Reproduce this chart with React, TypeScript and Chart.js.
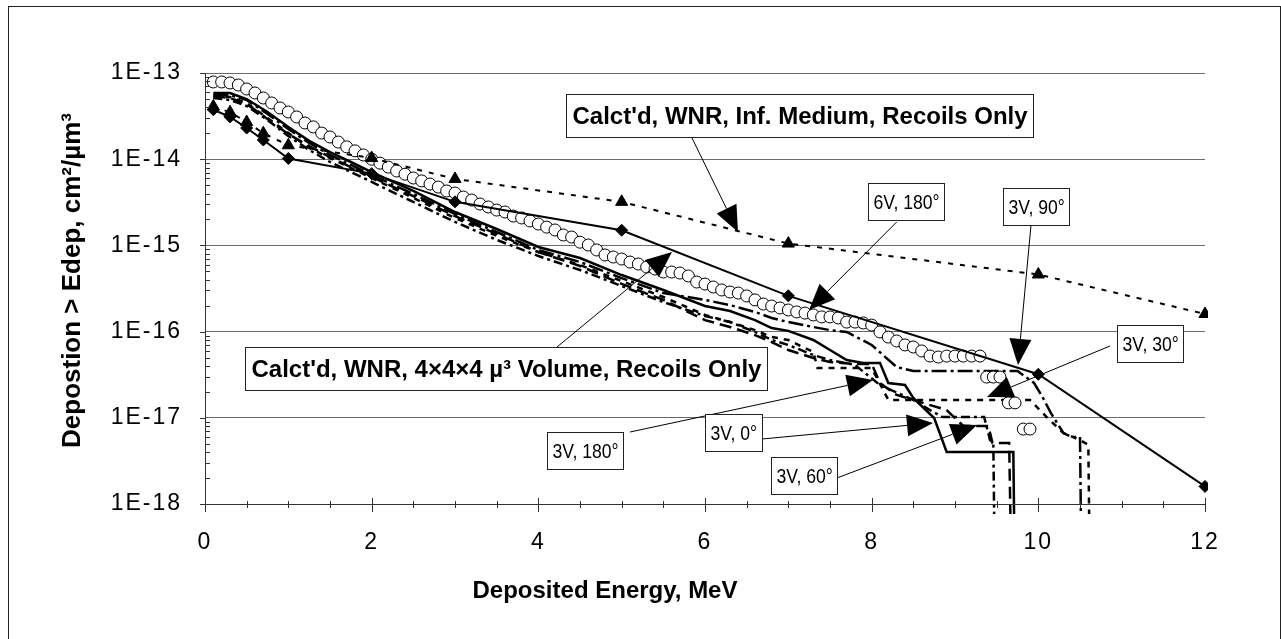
import React, { useEffect, useRef } from 'react';
import { Chart, registerables } from 'chart.js';

Chart.register(...registerables);

// ---------- axes ----------
const xTickValues = [0, 2, 4, 6, 8, 10, 12];
const yTickValues = [1e-18, 1e-17, 1e-16, 1e-15, 1e-14, 1e-13];
const xTitle = 'Deposited Energy, MeV';
const yTitle = 'Depostion > Edep, cm²/µm³';

// ---------- 6V, 180° (open circles) ----------
const circleX = [
  0.1, 0.2, 0.3, 0.4, 0.5, 0.6, 0.7, 0.8, 0.9, 1.0,
  1.1, 1.2, 1.3, 1.4, 1.5, 1.6, 1.7, 1.8, 1.9, 2.0,
  2.1, 2.2, 2.3, 2.4, 2.5, 2.6, 2.7, 2.8, 2.9, 3.0,
  3.1, 3.2, 3.3, 3.4, 3.5, 3.6, 3.7, 3.8, 3.9, 4.0,
  4.1, 4.2, 4.3, 4.4, 4.5, 4.6, 4.7, 4.8, 4.9, 5.0,
  5.1, 5.2, 5.3, 5.4, 5.5, 5.6, 5.7, 5.8, 5.9, 6.0,
  6.1, 6.2, 6.3, 6.4, 6.5, 6.6, 6.7, 6.8, 6.9, 7.0,
  7.1, 7.2, 7.3, 7.4, 7.5, 7.6, 7.7, 7.8, 7.9, 8.0,
  8.1, 8.2, 8.3, 8.4, 8.5, 8.6, 8.7, 8.8, 8.9, 9.0,
  9.1, 9.2, 9.3, 9.38, 9.46, 9.54, 9.64, 9.72, 9.82, 9.9,
];
const circleY = [
  7.87e-14, 7.87e-14, 7.66e-14, 7.26e-14, 6.52e-14, 5.86e-14, 5.13e-14, 4.49e-14, 3.93e-14, 3.53e-14,
  3.09e-14, 2.63e-14, 2.37e-14, 2.01e-14, 1.81e-14, 1.58e-14, 1.39e-14, 1.25e-14, 1.12e-14, 1.0e-14,
  9.0e-15, 8.1e-15, 7.3e-15, 6.7e-15, 6.05e-15, 5.6e-15, 5.15e-15, 4.75e-15, 4.28e-15, 4.05e-15,
  3.64e-15, 3.36e-15, 3.02e-15, 2.79e-15, 2.57e-15, 2.44e-15, 2.19e-15, 2.08e-15, 1.92e-15, 1.77e-15,
  1.63e-15, 1.51e-15, 1.32e-15, 1.25e-15, 1.09e-15, 1.01e-15, 8.85e-16, 7.74e-16, 7.33e-16, 6.95e-16,
  6.41e-16, 6.08e-16, 5.61e-16, 5.32e-16, 4.91e-16, 4.91e-16, 4.78e-16, 4.42e-16, 3.76e-16, 3.56e-16,
  3.29e-16, 3.04e-16, 2.88e-16, 2.8e-16, 2.59e-16, 2.33e-16, 2.09e-16, 1.98e-16, 1.88e-16, 1.78e-16,
  1.69e-16, 1.64e-16, 1.56e-16, 1.48e-16, 1.48e-16, 1.44e-16, 1.29e-16, 1.29e-16, 1.26e-16, 1.19e-16,
  9.9e-17, 8.65e-17, 7.78e-17, 7.0e-17, 6.63e-17, 5.96e-17, 5.21e-17, 5.07e-17, 5.2e-17, 5.2e-17,
  5.2e-17, 5.2e-17, 5.2e-17, 2.97e-17, 2.97e-17, 2.97e-17, 1.49e-17, 1.49e-17, 7.4e-18, 7.4e-18,
];

// ---------- Calct'd, WNR, 4x4x4 µ³ Volume (diamonds) ----------
const volumeX = [0.1, 0.3, 0.5, 0.7, 1, 2, 3, 5, 7, 10, 12, 12.02];
const volumeY = [3.75e-14, 3.1e-14, 2.3e-14, 1.67e-14, 1.02e-14, 6.8e-15, 3.2e-15, 1.5e-15, 2.6e-16, 3.2e-17, 1.6e-18, 1e-19];

// ---------- Calct'd, WNR, Inf. Medium (triangles) ----------
const infX = [0.1, 0.3, 0.5, 0.7, 1, 2, 3, 5, 7, 10, 12];
const infY = [4.1e-14, 3.5e-14, 2.7e-14, 2.0e-14, 1.45e-14, 1.03e-14, 5.9e-15, 3.2e-15, 1.05e-15, 4.6e-16, 1.6e-16];

// ---------- 3V, 0° (solid) ----------
const v0X = [0.1, 0.3, 0.5, 0.75, 1.0, 1.25, 1.5, 1.75, 2.0, 2.5, 3.0, 3.5, 4.0, 4.5, 5.0, 5.5, 6.0, 6.3, 6.6, 6.8, 7.0, 7.3, 7.5, 7.7, 7.9, 8.1, 8.2, 8.4, 8.5, 8.65, 8.75, 8.9, 9.7, 9.72];
const v0Y = [5.86e-14, 5.86e-14, 4.99e-14, 3.53e-14, 2.36e-14, 1.63e-14, 1.21e-14, 9.28e-15, 7.1e-15, 4.28e-15, 2.44e-15, 1.55e-15, 9.58e-16, 7.14e-16, 4.53e-16, 3.04e-16, 1.98e-16, 1.73e-16, 1.36e-16, 1.1e-16, 1.02e-16, 7.99e-17, 6.11e-17, 4.68e-17, 4.32e-17, 4.32e-17, 2.53e-17, 2.4e-17, 1.7e-17, 1.23e-17, 9.95e-18, 4.01e-18, 4.01e-18, 1e-19];

// ---------- 3V, 30° (short dashes) ----------
const v30X = [0.1, 0.3, 0.5, 0.75, 1.0, 1.25, 1.5, 1.75, 2.0, 2.5, 3.0, 3.5, 4.0, 4.5, 5.0, 5.5, 6.0, 6.3, 6.6, 6.8, 7.0, 7.3, 7.35, 8.0, 8.2, 9.9, 10.1, 10.3, 10.5, 10.6, 10.62];
const v30Y = [5.27e-14, 5.27e-14, 4.49e-14, 3.01e-14, 2.01e-14, 1.35e-14, 1.03e-14, 7.91e-15, 6.05e-15, 3.55e-15, 2.08e-15, 1.29e-15, 8.38e-16, 5.92e-16, 3.86e-16, 2.52e-16, 1.56e-16, 1.29e-16, 1.04e-16, 8.66e-17, 7.99e-17, 5.8e-17, 3.78e-17, 3.78e-17, 1.61e-17, 1.61e-17, 1.02e-17, 6.66e-18, 5.53e-18, 4.84e-18, 1e-19];

// ---------- 3V, 90° (long dash - dot) ----------
const v90X = [0.1, 0.3, 0.5, 0.75, 1.0, 1.25, 1.5, 1.75, 2.0, 2.5, 3.0, 3.5, 4.0, 4.5, 5.0, 5.5, 6.0, 6.3, 6.6, 6.8, 7.0, 7.3, 7.5, 7.7, 8.0, 8.3, 8.5, 9.75, 9.95, 10.05, 10.15, 10.3, 10.4, 10.5, 10.52];
const v90Y = [5.56e-14, 5.56e-14, 4.86e-14, 3.35e-14, 2.24e-14, 1.54e-14, 1.12e-14, 8.57e-15, 6.56e-15, 3.95e-15, 2.31e-15, 1.43e-15, 8.84e-16, 6.42e-16, 4.18e-16, 2.8e-16, 2.33e-16, 2.03e-16, 1.69e-16, 1.44e-16, 1.29e-16, 1.13e-16, 1.04e-16, 9.9e-17, 6.99e-17, 3.88e-17, 3.49e-17, 3.49e-17, 2.53e-17, 1.74e-17, 1.14e-17, 6.66e-18, 5.99e-18, 5.99e-18, 1e-19];

// ---------- 3V, 60° (dash - dot) ----------
const v60X = [0.1, 0.3, 0.5, 0.75, 1.0, 1.25, 1.5, 1.75, 2.0, 2.5, 3.0, 3.5, 4.0, 4.5, 5.0, 5.5, 6.0, 6.3, 6.6, 6.8, 7.0, 7.3, 7.5, 7.8, 8.1, 8.5, 8.7, 8.85, 9.35, 9.42, 9.46, 9.48];
const v60Y = [5.13e-14, 4.86e-14, 4.14e-14, 2.85e-14, 1.86e-14, 1.28e-14, 9.28e-15, 7.1e-15, 5.44e-15, 3.19e-15, 1.87e-15, 1.16e-15, 7.53e-16, 5.18e-16, 3.38e-16, 2.2e-16, 1.52e-16, 1.29e-16, 9.9e-17, 7.99e-17, 6.99e-17, 5.35e-17, 4.68e-17, 4.1e-17, 2.4e-17, 1.61e-17, 1.23e-17, 1.02e-17, 1.02e-17, 5.53e-18, 5.1e-18, 1e-19];

// ---------- 3V, 180° (long dashes) ----------
const v180X = [0.1, 0.3, 0.5, 0.75, 1.0, 1.25, 1.5, 1.75, 2.0, 2.5, 3.0, 3.5, 4.0, 4.5, 5.0, 5.5, 6.0, 6.3, 6.6, 6.8, 7.0, 7.3, 7.5, 7.8, 8.0, 8.1, 8.3, 8.9, 9.1, 9.4, 9.45, 9.65, 9.68];
const v180Y = [5.41e-14, 5.13e-14, 4.37e-14, 2.93e-14, 1.96e-14, 1.42e-14, 1.06e-14, 8.12e-15, 6.21e-15, 3.74e-15, 2.19e-15, 1.36e-15, 8.38e-16, 5.77e-16, 3.57e-16, 2.33e-16, 1.36e-16, 1.13e-16, 9.1e-17, 7.57e-17, 6.11e-17, 4.94e-17, 4.44e-17, 4.21e-17, 4.21e-17, 2.53e-17, 1.84e-17, 1.23e-17, 8.03e-18, 8.03e-18, 5.1e-18, 5.1e-18, 1e-19];

// ---------- call-outs (anchor in data units: x MeV, log10 of y) ----------
const callouts = [
  { text: "Calct'd, WNR, Inf. Medium, Recoils Only", big: true, box: [4.332, -13.244], from: [5.844, -13.754], tip: [6.396, -14.845] },
  { text: "Calct'd, WNR, 4×4×4 µ³ Volume, Recoils Only", big: true, box: [0.48, -16.179], from: [4.224, -16.179], tip: [5.604, -15.077] },
  { text: '6V, 180°', big: false, box: [7.95, -14.28], from: [8.3, -14.729], tip: [7.248, -15.749] },
  { text: '3V, 90°', big: false, box: [9.576, -14.334], from: [9.912, -14.763], tip: [9.756, -16.387] },
  { text: '3V, 30°', big: false, box: [10.944, -15.923], from: [10.86, -16.167], tip: [9.384, -16.759] },
  { text: '3V, 180°', big: false, box: [4.1, -17.16], from: [5.1, -17.165], tip: [8.016, -16.561] },
  { text: '3V, 0°', big: false, box: [6.0, -16.956], from: [6.684, -17.246], tip: [8.736, -17.06] },
  { text: '3V, 60°', big: false, box: [6.792, -17.455], from: [7.584, -17.698], tip: [9.264, -17.084] },
];

const FONT = '"Liberation Sans", Arial, Helvetica, sans-serif';

const pts = (xs: number[], ys: number[]) => xs.map((x, i) => ({ x, y: ys[i] }));

const decorations = {
  id: 'decorations',
  beforeDraw(chart: any) {
    chart.ctx.letterSpacing = '2px';
  },
  afterDraw(chart: any) {
    const ctx = chart.ctx as CanvasRenderingContext2D;
    const { left, right, top, bottom } = chart.chartArea;
    const xs = chart.scales.x;
    const ys = chart.scales.y;
    const P = (x: number, ly: number) => [xs.getPixelForValue(x), ys.getPixelForValue(Math.pow(10, ly))];
    ctx.save();
    (ctx as any).letterSpacing = '0px';
    ctx.strokeStyle = '#333';
    ctx.lineWidth = 1;
    // axis lines
    ctx.beginPath();
    ctx.moveTo(Math.round(left) + 0.5, top);
    ctx.lineTo(Math.round(left) + 0.5, Math.round(bottom) + 0.5);
    ctx.lineTo(right, Math.round(bottom) + 0.5);
    ctx.stroke();
    // y ticks
    ctx.beginPath();
    for (let e = -18; e <= -13; e++) {
      const y = Math.round(ys.getPixelForValue(Math.pow(10, e))) + 0.5;
      ctx.moveTo(left - 5, y);
      ctx.lineTo(left, y);
      if (e < -13) {
        for (let m = 2; m <= 9; m++) {
          const yy = Math.round(ys.getPixelForValue(m * Math.pow(10, e))) + 0.5;
          ctx.moveTo(left, yy);
          ctx.lineTo(left + 5, yy);
        }
      }
    }
    // x ticks
    for (let k = 0; k <= 24; k++) {
      const v = k * 0.5;
      const x = Math.round(xs.getPixelForValue(v)) + 0.5;
      if (k % 4 === 0) {
        ctx.moveTo(x, bottom - 6);
        ctx.lineTo(x, bottom + 8);
      } else {
        ctx.moveTo(x, bottom - 3);
        ctx.lineTo(x, bottom + 4);
      }
    }
    ctx.stroke();

    // axis titles
    ctx.fillStyle = '#000';
    ctx.font = `bold 24px ${FONT}`;
    ctx.textAlign = 'center';
    ctx.textBaseline = 'middle';
    ctx.fillText(xTitle, left + 400, bottom + 87);
    ctx.save();
    ctx.translate(left - 132, (top + bottom) / 2 - 8);
    ctx.rotate(-Math.PI / 2);
    ctx.font = `bold 26px ${FONT}`;
    ctx.fillText(yTitle, 0, 0);
    ctx.restore();

    // call-out leaders + arrowheads
    ctx.strokeStyle = '#000';
    ctx.fillStyle = '#000';
    callouts.forEach((c) => {
      const [x0, y0] = P(c.from[0], c.from[1]);
      const [x1, y1] = P(c.tip[0], c.tip[1]);
      const a = Math.atan2(y1 - y0, x1 - x0);
      const L = 26, W = 11;
      const bx = x1 - L * Math.cos(a);
      const by = y1 - L * Math.sin(a);
      ctx.lineWidth = 1;
      ctx.beginPath();
      ctx.moveTo(x0, y0);
      ctx.lineTo(bx, by);
      ctx.stroke();
      ctx.beginPath();
      ctx.moveTo(x1, y1);
      ctx.lineTo(bx + W * Math.sin(a), by - W * Math.cos(a));
      ctx.lineTo(bx - W * Math.sin(a), by + W * Math.cos(a));
      ctx.closePath();
      ctx.fill();
    });
    // call-out boxes
    callouts.forEach((c) => {
      const [bxp, byp] = P(c.box[0], c.box[1]);
      const sx = c.big ? 1 : 0.88;
      ctx.font = c.big ? `bold 24px ${FONT}` : `20px ${FONT}`;
      const tw = ctx.measureText(c.text).width * sx;
      const pad = c.big ? 6 : 5;
      const h = c.big ? 43 : 37;
      const w = Math.round(tw + 2 * pad);
      const X = Math.round(bxp) + 0.5;
      const Y = Math.round(byp) + 0.5;
      ctx.fillStyle = '#fff';
      ctx.fillRect(X, Y, w, h);
      ctx.strokeStyle = '#222';
      ctx.lineWidth = 1;
      ctx.strokeRect(X, Y, w, h);
      ctx.save();
      ctx.translate(X + pad, Y + h / 2 + 1);
      ctx.scale(sx, 1);
      ctx.fillStyle = '#000';
      ctx.textAlign = 'left';
      ctx.textBaseline = 'middle';
      ctx.fillText(c.text, 0, 0);
      ctx.restore();
    });
    ctx.restore();
  },
};

const clipBelow = { left: 0, top: 0, right: 3, bottom: 10 };

export default function App() {
  const ref = useRef<HTMLCanvasElement | null>(null);
  useEffect(() => {
    if (!ref.current) return;
    const stepLine = (label: string, xs: number[], ys: number[], dash: number[], order: number) => ({
      label,
      data: pts(xs, ys),
      borderColor: '#000',
      borderWidth: 2.5,
      borderDash: dash,
      pointRadius: 0,
      fill: false,
      tension: 0,
      order,
      clip: clipBelow,
    });
    const chart = new Chart(ref.current, {
      type: 'line',
      data: {
        datasets: [
          {
            label: "Calct'd, WNR, Inf. Medium, Recoils Only",
            data: pts(infX, infY),
            borderColor: '#000',
            borderWidth: 2,
            borderDash: [5, 7],
            pointStyle: 'triangle',
            pointRadius: 7,
            backgroundColor: '#000',
            pointBorderWidth: 1,
            order: 1,
            clip: clipBelow,
          } as any,
          {
            label: "Calct'd, WNR, 4×4×4 µ³ Volume, Recoils Only",
            data: pts(volumeX, volumeY),
            borderColor: '#000',
            borderWidth: 2,
            pointStyle: 'rectRot',
            pointRadius: [6, 6, 6, 6, 6, 6, 6, 6, 6, 6, 6, 0],
            backgroundColor: '#000',
            pointBorderWidth: 1,
            order: 2,
            clip: clipBelow,
          } as any,
          {
            label: '6V, 180°',
            data: pts(circleX, circleY),
            showLine: false,
            pointStyle: 'circle',
            pointRadius: 6,
            backgroundColor: '#fff',
            borderColor: '#000',
            pointBorderWidth: 1,
            order: 3,
          } as any,
          stepLine('3V, 0°', v0X, v0Y, [], 4),
          stepLine('3V, 30°', v30X, v30Y, [6, 6], 5),
          stepLine('3V, 60°', v60X, v60Y, [9, 4, 3, 4], 6),
          stepLine('3V, 90°', v90X, v90Y, [15, 4, 3, 4], 7),
          stepLine('3V, 180°', v180X, v180Y, [12, 6], 8),
        ],
      },
      options: {
        responsive: false,
        maintainAspectRatio: false,
        animation: false,
        events: [],
        layout: { padding: { left: 0, right: 75, top: 66, bottom: 0 } },
        plugins: { legend: { display: false }, tooltip: { enabled: false }, title: { display: false } },
        scales: {
          x: {
            type: 'linear',
            min: 0,
            max: 12,
            afterBuildTicks: (s: any) => {
              s.ticks = xTickValues.map((value) => ({ value }));
            },
            afterFit: (s: any) => {
              s.height = 135;
            },
            ticks: {
              color: '#000',
              font: { family: FONT, size: 23 },
              padding: 25,
              maxRotation: 0,
            },
            grid: { display: false, drawTicks: false },
            border: { display: false },
          },
          y: {
            type: 'logarithmic',
            min: 1e-18,
            max: 1e-13,
            afterBuildTicks: (s: any) => {
              s.ticks = yTickValues.map((value) => ({ value }));
            },
            afterFit: (s: any) => {
              s.width = 196;
            },
            ticks: {
              color: '#000',
              font: { family: FONT, size: 23 },
              padding: 23,
              callback: (v: any) => `1E${Math.round(Math.log10(Number(v)))}`,
            },
            grid: { color: '#6a6a6a', lineWidth: 1, drawTicks: false },
            border: { display: false },
          },
        },
      } as any,
      plugins: [decorations],
    });
    return () => chart.destroy();
  }, []);

  return (
    <div
      style={{
        position: 'absolute',
        left: 8,
        top: 6,
        width: 1273,
        height: 633,
        boxSizing: 'border-box',
        borderTop: '1px solid #222',
        borderLeft: '1px solid #222',
        borderRight: '1px solid #222',
        background: '#fff',
      }}
    >
      <canvas ref={ref} width={1271} height={632} style={{ display: 'block' }} />
    </div>
  );
}
